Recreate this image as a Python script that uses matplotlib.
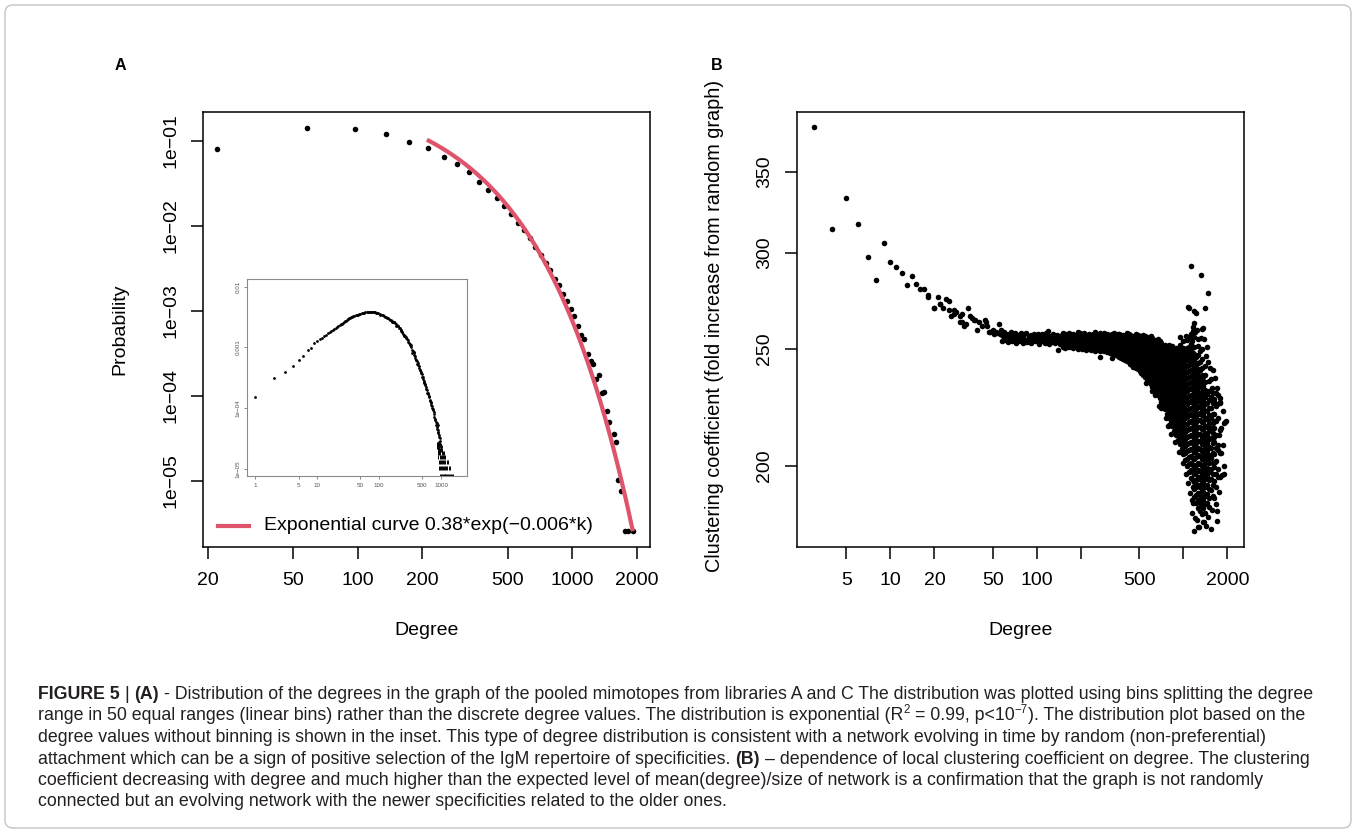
import numpy as np
import matplotlib
matplotlib.use("Agg")
import matplotlib.pyplot as plt
from matplotlib.patches import FancyBboxPatch
from matplotlib.ticker import NullLocator

plt.rcParams['font.family'] = ['Liberation Sans', 'DejaVu Sans']

# ---------------- Panel A: binned degree distribution ----------------
A_degree = [22, 58, 97, 136, 174, 212, 251, 290, 329, 367, 406, 444, 483, 521,
            558, 596, 634, 673, 712, 751, 790, 829, 868, 907, 946, 985, 1024,
            1063, 1101, 1139, 1180, 1218, 1255, 1294, 1333, 1371, 1410, 1448,
            1490, 1561, 1600, 1643, 1698, 1760, 1831, 1917]
A_prob = [0.080, 0.142, 0.139, 0.121, 0.098, 0.082, 0.065, 0.053, 0.0426, 0.0328,
          0.0264, 0.0213, 0.0173, 0.0137, 0.0109, 0.0090, 0.0072, 0.0057, 0.0045,
          0.0037, 0.0030, 0.0024, 0.0020, 0.0016, 0.0013, 0.00106, 0.00087,
          0.00066, 0.00052, 0.00047, 0.00031, 0.00026, 0.000236, 0.000157,
          0.000178, 0.000108, 0.000110, 0.0000666, 0.0000490, 0.0000361,
          0.0000284, 0.0000103, 0.0000077, 0.0000026, 0.0000026, 0.0000026]
fit_a = 0.38
fit_b = 0.0062
fit_k_start, fit_k_end = 210, 1920
A_xticks = [20, 50, 100, 200, 500, 1000, 2000]
A_xticklabels = ['20', '50', '100', '200', '500', '1000', '2000']
A_yticks = [1e-5, 1e-4, 1e-3, 1e-2, 1e-1]
A_yticklabels = ['1e\u221205', '1e\u221204', '1e\u221203', '1e\u221202', '1e\u221201']
legend_label = 'Exponential curve 0.38*exp(\u22120.006*k)'

# ---------------- Inset: unbinned degree distribution ----------------
inset_curve = [(1, 1.55e-4), (2, 3.17e-4), (3, 3.95e-4), (4, 5.0e-4), (5, 6.2e-4),
               (6, 7.3e-4), (7, 8.9e-4), (8, 9.7e-4), (9, 1.19e-3), (10, 1.28e-3),
               (11, 1.40e-3), (12, 1.45e-3), (13, 1.54e-3), (14, 1.62e-3), (15, 1.70e-3),
               (16, 1.80e-3), (17, 1.86e-3), (18, 1.93e-3), (19, 1.98e-3), (20, 2.06e-3),
               (21, 2.14e-3), (22, 2.22e-3), (23, 2.31e-3), (24, 2.40e-3), (25, 2.47e-3),
               (26, 2.55e-3), (27, 2.62e-3), (28, 2.68e-3), (29, 2.75e-3), (30, 2.82e-3),
               (31, 2.88e-3), (32, 2.94e-3), (33, 3.00e-3), (34, 3.06e-3), (35, 3.12e-3),
               (36, 3.18e-3), (38, 3.25e-3), (40, 3.30e-3), (42, 3.36e-3), (44, 3.42e-3),
               (46, 3.47e-3), (48, 3.52e-3), (50, 3.56e-3), (53, 3.62e-3), (55, 3.66e-3),
               (58, 3.72e-3), (60, 3.76e-3), (63, 3.80e-3), (65, 3.83e-3), (68, 3.87e-3),
               (71, 3.88e-3), (74, 3.86e-3), (77, 3.85e-3), (80, 3.84e-3), (83, 3.81e-3),
               (87, 3.78e-3), (90, 3.73e-3), (94, 3.68e-3), (97, 3.62e-3), (102, 3.56e-3),
               (105, 3.48e-3), (110, 3.45e-3), (115, 3.40e-3), (119, 3.30e-3), (124, 3.22e-3),
               (128, 3.15e-3), (133, 3.05e-3), (138, 3.00e-3), (143, 2.95e-3), (149, 2.85e-3),
               (154, 2.80e-3), (160, 2.72e-3), (166, 2.64e-3), (172, 2.60e-3), (178, 2.52e-3),
               (185, 2.45e-3), (192, 2.38e-3), (199, 2.25e-3), (207, 2.12e-3), (214, 2.05e-3),
               (222, 1.97e-3), (230, 1.86e-3), (238, 1.78e-3), (247, 1.68e-3), (256, 1.60e-3),
               (265, 1.52e-3), (275, 1.42e-3), (285, 1.36e-3), (295, 1.30e-3), (306, 1.18e-3),
               (318, 1.08e-3), (329, 1.02e-3), (353, 8.6e-4), (379, 7.2e-4), (407, 5.9e-4),
               (437, 4.9e-4), (469, 4.0e-4), (504, 3.2e-4), (541, 2.6e-4), (581, 2.1e-4),
               (624, 1.7e-4), (670, 1.3e-4), (720, 1.0e-4), (773, 8.0e-5), (830, 6.0e-5),
               (891, 4.3e-5), (957, 3.2e-5)]
inset_scatter = [(160, 2.60e-3), (175, 2.62e-3), (190, 2.28e-3), (205, 2.22e-3), (222, 1.90e-3),
                 (238, 1.82e-3), (256, 1.55e-3), (275, 1.48e-3), (296, 1.22e-3), (318, 1.12e-3),
                 (330, 1.08e-3), (341, 9.0e-4), (345, 8.2e-4), (360, 8.4e-4), (366, 8.1e-4),
                 (372, 7.6e-4), (385, 6.6e-4), (393, 6.3e-4), (400, 6.3e-4), (415, 5.4e-4),
                 (422, 5.6e-4), (430, 5.2e-4), (445, 4.6e-4), (453, 4.3e-4), (460, 4.2e-4),
                 (478, 3.8e-4), (487, 3.7e-4), (495, 3.3e-4), (512, 3.05e-4), (522, 2.8e-4),
                 (530, 2.7e-4), (550, 2.4e-4), (560, 2.45e-4), (570, 2.25e-4), (590, 1.95e-4),
                 (602, 1.8e-4), (612, 1.75e-4), (635, 1.6e-4), (647, 1.55e-4), (658, 1.38e-4),
                 (682, 1.2e-4), (695, 1.12e-4), (700, 1.25e-4), (708, 1.08e-4), (735, 9.2e-5),
                 (746, 9.6e-5), (760, 8.6e-5), (785, 7.2e-5), (800, 6.5e-5), (812, 6.4e-5),
                 (840, 5.2e-5), (850, 4.6e-5), (860, 5.6e-5), (870, 4.8e-5), (880, 5.2e-5),
                 (895, 3.9e-5), (910, 4.1e-5), (920, 3.6e-5), (930, 3.4e-5), (940, 2.8e-5),
                 (960, 2.9e-5), (975, 2.6e-5), (990, 2.4e-5), (1000, 2.3e-5)]
inset_tail = [(960, 7.74e-6), (995, 7.74e-6), (1030, 7.74e-6), (1065, 7.74e-6), (1100, 7.74e-6),
              (1140, 7.74e-6), (1180, 7.74e-6), (1220, 7.74e-6), (1265, 7.74e-6), (1310, 7.74e-6),
              (1360, 7.74e-6), (1410, 7.74e-6), (1460, 7.74e-6), (1520, 7.74e-6), (1580, 7.74e-6),
              (940, 1.03e-5), (975, 1.03e-5), (1010, 1.03e-5), (1050, 1.03e-5), (1090, 1.03e-5),
              (1130, 1.03e-5), (1175, 1.03e-5), (1220, 1.03e-5), (1270, 1.03e-5), (1325, 1.03e-5),
              (1380, 1.03e-5),
              (925, 1.29e-5), (960, 1.29e-5), (1000, 1.29e-5), (1040, 1.29e-5), (1085, 1.29e-5),
              (1130, 1.29e-5), (1180, 1.29e-5), (1230, 1.29e-5), (1290, 1.29e-5),
              (910, 1.55e-5), (950, 1.55e-5), (990, 1.55e-5), (1030, 1.55e-5), (1075, 1.55e-5),
              (1120, 1.55e-5), (1170, 1.55e-5),
              (895, 1.81e-5), (935, 1.81e-5), (975, 1.81e-5), (1020, 1.81e-5), (1065, 1.81e-5),
              (1110, 1.81e-5),
              (880, 2.06e-5), (920, 2.06e-5), (960, 2.06e-5), (1005, 2.06e-5), (1050, 2.06e-5),
              (870, 2.32e-5), (905, 2.32e-5), (945, 2.32e-5), (990, 2.32e-5),
              (860, 2.58e-5), (895, 2.58e-5), (935, 2.58e-5)]
inset_xticks = [1, 5, 10, 50, 100, 500, 1000]
inset_xticklabels = ['1', '5', '10', '50', '100', '500', '1000']
inset_yticks = [1e-5, 1e-4, 1e-3, 1e-2]
inset_yticklabels = ['1e\u221205', '1e\u221204', '0.001', '0.01']

# ---------------- Panel B: clustering coefficient vs degree ----------------
B_low = [(3, 381), (4, 314), (5, 333), (6, 317), (7, 298), (8, 285), (9, 306), (10, 295),
         (11, 292), (12, 289), (13, 282), (14, 287), (15, 283), (16, 280), (17, 280), (18, 277),
         (18, 276), (20, 270), (20, 270), (21, 276), (22, 272), (22, 272), (23, 270), (24, 275),
         (25, 274), (25, 269), (26, 266), (27, 269), (27, 267), (28, 268), (30, 266), (30, 263),
         (31, 267), (31, 263), (32, 261), (33, 262), (34, 270), (35, 266), (36, 265), (37, 264),
         (38, 264), (39, 259), (40, 263), (42, 261), (44, 264), (45, 263), (46, 261), (47, 258),
         (48, 258), (50, 259), (51, 257), (53, 258), (53, 257.5), (55, 262), (56, 257), (57, 259)]
B_band = [(58, 256.5), (58, 253.8), (60, 258.3), (60, 255.0), (61, 254.2), (62, 257.1),
          (63, 255.6), (64, 253.2), (65, 256.9), (66, 254.8), (67, 258.0), (68, 253.9),
          (69, 256.2), (70, 254.6), (71, 257.4), (72, 252.9), (73, 255.8), (74, 254.1),
          (75, 256.8), (76, 253.5), (78, 257.6), (78, 254.9), (80, 255.5), (81, 252.6),
          (82, 256.9), (84, 254.3), (85, 257.8), (86, 253.1), (88, 255.9), (89, 254.0),
          (91, 256.6), (92, 252.8), (94, 255.2), (95, 257.3), (97, 253.7), (99, 255.8),
          (100, 254.5), (102, 257.0), (104, 252.4), (105, 255.4), (107, 253.6), (109, 256.9),
          (111, 254.2), (113, 252.9), (114, 255.7), (116, 257.4), (118, 253.8), (120, 255.2),
          (120, 258.4), (122, 252.3), (124, 256.3), (126, 254.6), (128, 253.0), (130, 257.2),
          (132, 255.0), (134, 252.7), (136, 254.1), (138, 256.5), (141, 253.4), (143, 255.6),
          (145, 252.1), (147, 254.4), (149, 256.8)]
B_columns = [
    (150, [251.0, 253.3, 255.6, 257.6]), (155, [250.2, 252.5, 254.8, 257.0]),
    (160, [251.5, 253.8, 256.1]), (166, [250.6, 252.9, 255.2, 257.4]),
    (172, [251.8, 254.1, 256.4]), (178, [250.4, 252.7, 255.0, 257.3]),
    (184, [251.3, 253.6, 255.9]), (190, [250.0, 252.3, 254.6, 256.9, 258.2]),
    (197, [251.1, 253.4, 255.7, 257.5]), (204, [249.8, 252.1, 254.4, 256.7]),
    (211, [250.9, 253.2, 255.5, 257.6]), (218, [249.6, 251.9, 254.2, 256.5]),
    (226, [250.5, 252.8, 255.1, 257.3]), (234, [249.3, 251.6, 253.9, 256.2]),
    (242, [250.2, 252.5, 254.8, 257.1]), (251, [249.0, 251.3, 253.6, 255.9, 258.0]),
    (260, [249.9, 252.2, 254.5, 256.8]), (269, [248.8, 251.1, 253.4, 255.7, 257.6]),
    (279, [249.6, 251.9, 254.2, 256.5]), (289, [248.7, 251.0, 253.3, 255.6, 257.5]),
    (300, [248.6, 250.4, 252.1, 253.8, 255.5, 257.2]),
    (318, [247.9, 249.7, 251.5, 253.2, 254.9, 256.8]),
    (337, [247.2, 249.0, 250.8, 252.6, 254.4, 256.1, 257.6]),
    (357, [246.5, 248.4, 250.3, 252.1, 253.9, 255.7, 257.3]),
    (378, [245.4, 247.3, 249.2, 251.0, 252.8, 254.6, 256.5]),
    (400, [244.8, 246.7, 248.6, 250.5, 252.4, 254.3, 256.2]),
    (424, [243.6, 245.6, 247.6, 249.5, 251.4, 253.3, 255.2, 257.0]),
    (449, [242.5, 244.5, 246.5, 248.5, 250.5, 252.4, 254.3, 256.2]),
    (475, [241.2, 243.3, 245.4, 247.5, 249.5, 251.5, 253.4, 255.3, 257.1]),
    (503, [239.8, 242.0, 244.1, 246.2, 248.3, 250.4, 252.4, 254.4, 256.3]),
    (533, [238.0, 240.2, 242.4, 244.6, 246.8, 248.9, 251.0, 253.0, 255.0, 256.8]),
    (565, [236.2, 238.5, 240.8, 243.0, 245.2, 247.4, 249.6, 251.7, 253.8, 255.7]),
    (598, [233.8, 236.1, 238.4, 240.7, 243.0, 245.3, 247.6, 249.8, 252.0, 254.1, 256.0]),
    (633, [231.4, 233.8, 236.2, 238.6, 241.0, 243.3, 245.6, 247.9, 250.1, 252.3, 254.4]),
    (671, [229.0, 231.4, 233.8, 236.2, 238.6, 241.0, 243.4, 245.7, 248.0, 250.2, 252.4, 254.6]),
    (710, [226.0, 228.5, 231.0, 233.5, 236.0, 238.5, 240.9, 243.3, 245.7, 248.1, 250.4, 252.6]),
    (752, [222.8, 225.3, 227.8, 230.3, 232.8, 235.3, 237.8, 240.2, 242.6, 245.0, 247.4, 249.7, 252.0]),
    (797, [219.0, 221.6, 224.2, 226.8, 229.4, 232.0, 234.5, 237.0, 239.5, 242.0, 244.5, 247.0,
           249.4, 251.6]),
    (844, [215.6, 218.2, 220.8, 223.4, 226.0, 228.6, 231.2, 233.8, 236.4, 239.0, 241.5, 244.0,
           246.5, 248.9, 251.2]),
    (894, [212.0, 214.6, 217.2, 219.8, 222.4, 225.0, 227.6, 230.2, 232.8, 235.4, 238.0, 240.6,
           243.2, 245.7, 248.2, 250.5]),
    (947, [208.5, 211.2, 213.9, 216.6, 219.3, 222.0, 224.7, 227.4, 230.1, 232.8, 235.5, 238.2,
           240.9, 243.5, 246.1, 248.6, 252.0, 255.5]),
    (1003, [204.5, 207.2, 209.9, 212.6, 215.3, 218.0, 220.7, 223.4, 226.1, 228.8, 231.5, 234.2,
            236.9, 239.6, 242.3, 245.0, 247.6, 250.2, 253.5]),
    (1062, [200.0, 202.8, 205.6, 208.4, 211.2, 214.0, 216.8, 219.6, 222.4, 225.2, 228.0, 230.8,
            233.6, 236.4, 239.2, 242.0, 244.8, 247.5, 250.2, 254.0]),
    (1125, [195.5, 198.3, 201.1, 203.9, 206.7, 209.5, 212.3, 215.1, 217.9, 220.7, 223.5, 226.3,
            229.1, 231.9, 234.7, 237.5, 240.3, 243.1, 245.9, 248.7, 252.5, 257.0]),
    (1191, [188.5, 191.3, 194.1, 196.9, 199.7, 202.5, 205.3, 208.1, 210.9, 213.7, 216.5, 219.3,
            222.1, 224.9, 227.7, 230.5, 233.3, 236.1, 238.9, 241.7, 244.5, 247.5, 251.0, 255.5]),
    (1262, [184.5, 187.3, 190.1, 192.9, 195.7, 198.5, 201.3, 204.1, 206.9, 209.7, 212.5, 215.3,
            218.1, 220.9, 223.7, 226.5, 229.3, 232.1, 234.9, 237.7, 240.5, 243.5, 247.0, 251.5]),
    (1336, [182.5, 185.4, 188.3, 191.2, 194.1, 197.0, 199.9, 202.8, 205.7, 208.6, 211.5, 214.4,
            217.3, 220.2, 223.1, 226.0, 228.9, 231.8, 234.7, 237.6, 241.0, 245.0, 250.0]),
    (1415, [183.0, 186.0, 189.0, 192.0, 195.0, 198.0, 201.0, 204.0, 207.0, 210.0, 213.0, 216.0,
            219.0, 222.0, 225.0, 228.0, 231.0, 234.5, 238.0, 242.0]),
    (1499, [185.0, 188.2, 191.4, 194.6, 197.8, 201.0, 204.2, 207.4, 210.6, 213.8, 217.0, 220.2,
            223.4, 226.8, 230.5, 235.0]),
    (1588, [189.0, 193.0, 197.0, 201.0, 205.0, 209.0, 213.0, 217.0, 221.0, 225.5, 230.0]),
    (1682, [192.0, 197.0, 202.0, 207.0, 212.0, 218.0, 224.0, 230.0]),
    (1781, [196.0, 205.0, 214.0, 226.0]),
    (1887, [197.0, 217.0]),
]
# in-between degrees (nodes sharing the dense part of the cloud)
B_columns_mid = [
    (309, [249.5, 251.3, 253.0, 254.7, 256.4]),
    (327, [248.6, 250.4, 252.2, 253.9, 255.6, 257.3]),
    (347, [247.8, 249.6, 251.5, 253.3, 255.1, 256.8]),
    (367, [245.9, 247.8, 249.7, 251.6, 253.4, 255.2, 257.0]),
    (389, [245.1, 247.0, 248.9, 250.8, 252.7, 254.6, 256.4]),
    (412, [244.2, 246.2, 248.1, 250.0, 251.9, 253.8, 255.7, 257.4]),
    (436, [243.0, 245.0, 247.0, 249.0, 251.0, 252.9, 254.8, 256.6]),
    (462, [241.8, 243.9, 246.0, 248.0, 250.0, 252.0, 253.9, 255.8]),
    (489, [240.5, 242.6, 244.7, 246.8, 248.9, 251.0, 252.9, 254.9, 256.7]),
    (518, [238.9, 241.1, 243.3, 245.5, 247.6, 249.7, 251.7, 253.7, 255.7]),
    (549, [237.1, 239.4, 241.6, 243.8, 246.0, 248.2, 250.4, 252.5, 254.5, 256.3]),
    (581, [235.0, 237.3, 239.6, 241.9, 244.2, 246.4, 248.6, 250.8, 252.9, 254.9]),
    (615, [232.6, 235.0, 237.3, 239.6, 241.9, 244.2, 246.5, 248.8, 251.0, 253.2, 255.2]),
    (652, [230.2, 232.6, 235.0, 237.4, 239.8, 242.2, 244.5, 246.8, 249.1, 251.3, 253.5]),
    (690, [227.5, 230.0, 232.5, 235.0, 237.4, 239.8, 242.2, 244.6, 247.0, 249.3, 251.5, 253.6]),
    (731, [224.4, 226.9, 229.4, 231.9, 234.4, 236.9, 239.4, 241.8, 244.2, 246.6, 249.0, 251.3]),
    (774, [220.9, 223.5, 226.1, 228.6, 231.1, 233.6, 236.1, 238.6, 241.1, 243.6, 246.1, 248.5,
           250.8]),
    (820, [217.3, 219.9, 222.5, 225.1, 227.7, 230.3, 232.9, 235.5, 238.1, 240.7, 243.2, 245.7,
           248.1, 250.5]),
    (869, [213.8, 216.4, 219.0, 221.6, 224.2, 226.8, 229.4, 232.0, 234.6, 237.2, 239.8, 242.4,
           244.9, 247.4, 249.8]),
    (920, [210.2, 212.9, 215.6, 218.3, 221.0, 223.7, 226.4, 229.1, 231.8, 234.5, 237.2, 239.9,
           242.6, 245.2, 247.7, 250.1]),
    (975, [206.5, 209.2, 211.9, 214.6, 217.3, 220.0, 222.7, 225.4, 228.1, 230.8, 233.5, 236.2,
           238.9, 241.6, 244.3, 246.9, 249.4]),
    (1032, [202.2, 205.0, 207.8, 210.6, 213.4, 216.2, 219.0, 221.8, 224.6, 227.4, 230.2, 233.0,
            235.8, 238.6, 241.4, 244.2, 246.9, 249.5]),
    (1093, [197.8, 200.6, 203.4, 206.2, 209.0, 211.8, 214.6, 217.4, 220.2, 223.0, 225.8, 228.6,
            231.4, 234.2, 237.0, 239.8, 242.6, 245.4, 248.2, 251.0]),
    (1158, [192.0, 194.8, 197.6, 200.4, 203.2, 206.0, 208.8, 211.6, 214.4, 217.2, 220.0, 222.8,
            225.6, 228.4, 231.2, 234.0, 236.8, 239.6, 242.4, 245.2, 248.2]),
    (1226, [186.5, 189.3, 192.1, 194.9, 197.7, 200.5, 203.3, 206.1, 208.9, 211.7, 214.5, 217.3,
            220.1, 222.9, 225.7, 228.5, 231.3, 234.1, 236.9, 239.7, 242.6, 246.0]),
    (1298, [183.5, 186.4, 189.3, 192.2, 195.1, 198.0, 200.9, 203.8, 206.7, 209.6, 212.5, 215.4,
            218.3, 221.2, 224.1, 227.0, 230.0, 233.2, 236.5, 240.0, 244.0]),
    (1375, [184.5, 187.5, 190.5, 193.5, 196.5, 199.5, 202.5, 205.5, 208.5, 211.5, 214.5, 217.5,
            220.5, 223.5, 226.5, 229.8, 233.0, 237.0]),
    (1456, [186.5, 189.7, 192.9, 196.1, 199.3, 202.5, 205.7, 208.9, 212.1, 215.3, 218.6, 222.0,
            225.5, 229.5]),
    (1543, [191.0, 195.0, 199.0, 203.0, 207.0, 211.0, 215.0, 219.0, 223.5, 228.0]),
    (1634, [194.5, 199.5, 204.5, 209.5, 215.0, 221.0, 227.0]),
    (1731, [199.0, 208.0, 219.0]),
]
# scattered nodes around the edge of the dense cloud
B_edge = [(560, 234.0), (610, 230.5), (640, 228.8), (700, 223.5), (760, 219.0), (790, 216.0),
          (830, 212.5), (880, 209.5), (930, 205.5), (990, 201.0), (1040, 197.0), (1080, 193.5),
          (1110, 190.0), (1140, 187.5), (1150, 183.0), (1210, 181.0), (1240, 180.5),
          (1300, 184.0), (1550, 236.0), (1600, 240.0), (1650, 236.5), (1700, 232.0),
          (1740, 229.0), (1810, 215.0), (1860, 208.0), (1900, 200.0), (1620, 188.0),
          (1560, 184.0), (1480, 181.5), (1430, 178.5), (1760, 190.5), (1680, 186.0),
          (1050, 256.0), (1100, 255.0), (1150, 253.5), (1200, 258.0), (1260, 254.5),
          (1300, 249.0), (1420, 246.5), (1470, 244.0), (1520, 241.0)]
B_outliers = [(1125, 292.8), (1330, 287.7), (1486, 277.8), (1097, 270.0), (1416, 270.2),
              (1217, 267.5), (1191, 268.4), (1185, 262.8), (1161, 258.8), (1336, 259.4),
              (1173, 260.5), (1236, 259.1), (1371, 260.0), (1324, 255.1), (1449, 251.0),
              (1377, 254.6), (1919, 217.4), (1950, 217.7), (1841, 196.6), (1725, 196.0),
              (1795, 225.3), (1794, 227.5), (1629, 211.5), (1649, 201.6), (1177, 176.7),
              (1279, 177.9), (1392, 179.7), (1541, 177.3), (1695, 180.1), (1695, 183.6),
              (1173, 186.2), (1268, 178.2), (1371, 179.9), (682, 224.3), (803, 216.3),
              (865, 215.9), (140, 249.4), (270, 246.3), (325, 245.4), (456, 241.5),
              (1084, 270.5), (1760, 212.0), (1820, 205.0), (1880, 222.0), (1700, 225.0),
              (1730, 206.0), (1660, 218.0), (1610, 226.0), (1570, 232.0)]
B_xticks = [5, 10, 20, 50, 100, 200, 500, 1000, 2000]
B_xticklabels = ['5', '10', '20', '50', '100', '', '500', '', '2000']
B_yticks = [200, 250, 300, 350]
B_yticklabels = ['200', '250', '300', '350']

caption_lines = [
    [("FIGURE 5", "bold"), ("|", "normal"), ("(A)", "bold"),
     ("- Distribution of the degrees in the graph of the pooled mimotopes from libraries A and C "
      "The distribution was plotted using bins splitting the degree", "normal")],
    [("range in 50 equal ranges (linear bins) rather than the discrete degree values. "
      "The distribution is exponential (R", "normal"), ("2", "sup"), ("= 0.99, p<10", "normal"),
     ("\u22127", "sup"), (")", "normal-nosp"), (". The distribution plot based on the", "normal-nosp")],
    [("degree values without binning is shown in the inset. This type of degree distribution is "
      "consistent with a network evolving in time by random (non-preferential)", "normal")],
    [("attachment which can be a sign of positive selection of the IgM repertoire of specificities.",
      "normal"), ("(B)", "bold"),
     ("\u2013 dependence of local clustering coefficient on degree. The clustering", "normal")],
    [("coefficient decreasing with degree and much higher than the expected level of "
      "mean(degree)/size of network is a confirmation that the graph is not randomly", "normal")],
    [("connected but an evolving network with the newer specificities related to the older ones.",
      "normal")],
]

# ---------------- figure ----------------
W, H = 1356, 833
fig = plt.figure(figsize=(W / 100, H / 100), dpi=100)


def rect(l, t, r, b):
    return [l / W, 1 - b / H, (r - l) / W, (b - t) / H]


bg = fig.add_axes([0, 0, 1, 1], zorder=-5)
bg.set_xlim(0, W)
bg.set_ylim(H, 0)
bg.axis('off')
bg.add_patch(FancyBboxPatch((5, 5), W - 10, H - 10,
                            boxstyle="round,pad=0,rounding_size=8",
                            fc='white', ec='#c4c4c4', lw=1.0))

TICK_LEN = 8.4
FS = 14


def style_axes(ax):
    for s in ax.spines.values():
        s.set_linewidth(1.1)
        s.set_color('black')
    ax.xaxis.set_minor_locator(NullLocator())
    ax.yaxis.set_minor_locator(NullLocator())
    ax.tick_params(which='major', direction='out', length=TICK_LEN, width=1.1,
                   labelsize=FS, colors='black')
    ax.tick_params(axis='x', pad=9.6)
    ax.tick_params(axis='y', pad=8.6, labelrotation=90)
    for lbl in ax.get_yticklabels():
        lbl.set_va('center')


# Panel A
axA = fig.add_axes(rect(202.9, 111.7, 650, 547.3))
axA.set_xscale('log')
axA.set_yscale('log')
axA.scatter(A_degree, A_prob, s=16, c='black', linewidths=0, zorder=2)
k_fit = np.linspace(fit_k_start, fit_k_end, 400)
axA.plot(k_fit, fit_a * np.exp(-fit_b * k_fit), color='#DF536B', lw=3.0, zorder=3,
         solid_capstyle='butt')
axA.set_xlim(10 ** 1.2767, 10 ** 3.3633)
axA.set_ylim(10 ** -5.78, 10 ** -0.656)
axA.set_xticks(A_xticks)
axA.set_xticklabels(A_xticklabels)
axA.set_yticks(A_yticks)
axA.set_yticklabels(A_yticklabels)
style_axes(axA)
axA.plot([0.0335, 0.1038], [0.0489, 0.0489], transform=axA.transAxes, color='#DF536B', lw=3.0)
axA.text(0.1362, 0.0489, legend_label, transform=axA.transAxes, fontsize=FS,
         ha='left', va='center')

# Inset
axI = fig.add_axes(rect(247, 279.4, 467, 476.3), zorder=6)
axI.set_xscale('log')
axI.set_yscale('log')
ik = [p[0] for p in inset_curve] + [p[0] for p in inset_scatter]
ip = [p[1] for p in inset_curve] + [p[1] for p in inset_scatter]
axI.plot(ik, ip, 'o', ms=2.0, mew=0, color='black')
axI.plot([p[0] for p in inset_tail], [p[1] for p in inset_tail], '|', ms=3.2, mew=0.7,
         color='black')
axI.set_xlim(10 ** -0.134, 10 ** 3.42)
axI.set_ylim(10 ** -5.124, 10 ** -1.88)
axI.set_xticks(inset_xticks)
axI.set_xticklabels(inset_xticklabels)
axI.set_yticks(inset_yticks)
axI.set_yticklabels(inset_yticklabels)
axI.xaxis.set_minor_locator(NullLocator())
axI.yaxis.set_minor_locator(NullLocator())
for s in axI.spines.values():
    s.set_linewidth(0.8)
    s.set_color('#8a8a8a')
axI.tick_params(which='major', direction='out', length=2.4, width=0.5, labelsize=4.5,
                colors='#555555', pad=2.2)
axI.tick_params(axis='y', labelrotation=90)
for lbl in axI.get_yticklabels():
    lbl.set_va('center')

# Panel B
axB = fig.add_axes(rect(797.1, 111.7, 1244.3, 547.3))
axB.set_xscale('log')
axB.set_yscale('log')
bx = [p[0] for p in B_low] + [p[0] for p in B_band]
by = [p[1] for p in B_low] + [p[1] for p in B_band]
for d, vals in B_columns + B_columns_mid:
    bx += [d] * len(vals)
    by += list(vals)
bx += [p[0] for p in B_edge] + [p[0] for p in B_outliers]
by += [p[1] for p in B_edge] + [p[1] for p in B_outliers]
axB.scatter(bx, by, s=16, c='black', linewidths=0)
axB.set_xlim(10 ** 0.3634, 10 ** 3.417)
axB.set_ylim(171.3, 392.6)
axB.set_xticks(B_xticks)
axB.set_xticklabels(B_xticklabels)
axB.set_yticks(B_yticks)
axB.set_yticklabels(B_yticklabels)
style_axes(axB)

# axis titles and panel letters
bg.text(119.6, 329.5, 'Probability', rotation=90, ha='center', va='center', fontsize=FS)
bg.text(426.8, 630.7, 'Degree', ha='center', va='center', fontsize=FS)
bg.text(715.0, 326.0, 'Clustering coefficient (fold increase from random graph)', rotation=90,
        ha='center', va='center', fontsize=14.3)
bg.text(1020.4, 630.7, 'Degree', ha='center', va='center', fontsize=FS)
bg.text(120, 65, 'A', ha='center', va='center', fontsize=11.5, fontweight='bold')
bg.text(716.8, 65, 'B', ha='center', va='center', fontsize=11.5, fontweight='bold')

# caption
renderer = fig.canvas.get_renderer()
CAP_COLOR = '#231f20'


def twidth(s, size, weight='normal'):
    t1 = bg.text(0, 0, '|' + s + '|', fontsize=size, fontweight=weight)
    t2 = bg.text(0, 0, '||', fontsize=size, fontweight=weight)
    w = t1.get_window_extent(renderer).width - t2.get_window_extent(renderer).width
    t1.remove()
    t2.remove()
    return w


def line_width(segs, size):
    x = 0.0
    sp = twidth(' ', size)
    for i, (txt, kind) in enumerate(segs):
        if i > 0 and kind not in ('sup', 'normal-nosp'):
            x += sp
        if kind == 'sup':
            x += twidth(txt, size * 0.65)
        else:
            x += twidth(txt, size, 'bold' if kind == 'bold' else 'normal')
    return x


base = 10.0
w10 = line_width(caption_lines[0], base)
cap_size = base * (1318 - 38) / w10
baselines = [699, 720.5, 742, 763.5, 785, 806.5]
for segs, yb in zip(caption_lines, baselines):
    x = 38.0
    sp = twidth(' ', cap_size)
    for i, (txt, kind) in enumerate(segs):
        if i > 0 and kind not in ('sup', 'normal-nosp'):
            x += sp
        if kind == 'sup':
            bg.text(x, yb - cap_size * 0.55, txt, fontsize=cap_size * 0.65, color=CAP_COLOR,
                    ha='left', va='baseline')
            x += twidth(txt, cap_size * 0.65)
        else:
            wgt = 'bold' if kind == 'bold' else 'normal'
            bg.text(x, yb, txt, fontsize=cap_size, fontweight=wgt, color=CAP_COLOR,
                    ha='left', va='baseline')
            x += twidth(txt, cap_size, wgt)

fig.savefig('out.png', dpi=100)
